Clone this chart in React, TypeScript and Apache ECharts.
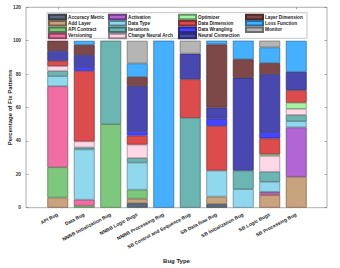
import React, { useEffect, useRef } from "react";
import * as echarts from "echarts";

const categories = [
  "API Bug",
  "Data Bug",
  "NNBB Initialization Bug",
  "NNBB Logic Bugs",
  "NNBB Processing Bug",
  "SB Control and Sequence Bug",
  "SB Data flow Bug",
  "SB Initialization Bug",
  "SB Logic Bugs",
  "SB Processing Bug",
];

const seriesNames = [
  "Accuracy Metric",
  "Add Layer",
  "API Contract",
  "Versioning",
  "Activation",
  "Data Type",
  "Iterations",
  "Change Neural Arch",
  "Optimizer",
  "Data Dimension",
  "Data Wrangling",
  "Neural Connection",
  "Layer Dimension",
  "Loss Function",
  "Monitor",
];

const N = null;
const accuracyMetric = [N, N, N, 2.7, N, N, 2.2, N, N, N];
const addLayer = [6.06, N, N, 2.7, N, N, 4.4, N, 7.5, 18.5];
const apiContract = [18.18, 1.2, 50, 5.4, N, N, N, N, N, N];
const versioning = [48.48, 3.6, N, N, N, N, N, N, 1, N];
const activation = [N, N, N, N, N, N, N, N, 1, 29.6];
const dataType = [6.06, 30.1, N, 16.2, N, N, 15.6, 11.1, 6, 3.7];
const iterations = [3.03, 1.2, 50, 2.7, N, 53.8, N, 11.1, 6, 3.7];
const changeNeuralArch = [3.03, 3.6, N, 8.1, N, N, N, N, 9.5, 3.7];
const optimizer = [N, N, N, N, N, N, N, N, 1, 3.7];
const dataDimension = [3.03, 42.2, N, 5.4, N, 23.1, 26.7, N, 9.5, 7.4];
const dataWrangling = [N, 2.4, N, 2.7, N, N, 4.4, N, 3.8, N];
const neuralConnection = [6.06, 7.2, N, 27.0, N, 15.4, 6.7, 55.6, 34.7, 11.1];
const layerDimension = [6.06, 6.0, N, 5.4, N, N, 37.8, 11.1, 6.6, N];
const lossFunction = [N, 2.4, N, 8.1, 100, N, 2.2, 11.1, 9.4, 18.5];
const monitor = [N, N, N, 13.5, N, 7.7, N, N, 4, N];

const seriesValues = [
  accuracyMetric,
  addLayer,
  apiContract,
  versioning,
  activation,
  dataType,
  iterations,
  changeNeuralArch,
  optimizer,
  dataDimension,
  dataWrangling,
  neuralConnection,
  layerDimension,
  lossFunction,
  monitor,
];

const colors = [
  "#5b6b7f",
  "#c9a27e",
  "#7ec87e",
  "#f06ea3",
  "#b266d6",
  "#8fd8ee",
  "#6bb5b2",
  "#ffd8e8",
  "#a3f5a3",
  "#dc4c4c",
  "#4545ff",
  "#4848b0",
  "#7f4848",
  "#45b0ff",
  "#b5b5b5",
];

function darken(hex: string, f: number) {
  const n = parseInt(hex.slice(1), 16);
  const r = Math.round(((n >> 16) & 255) * f);
  const g = Math.round(((n >> 8) & 255) * f);
  const b = Math.round((n & 255) * f);
  return "rgb(" + r + "," + g + "," + b + ")";
}

const FONT = "Liberation Sans, Arial, sans-serif";

export default function App() {
  const ref = useRef<HTMLDivElement>(null);
  useEffect(() => {
    if (!ref.current) return;
    const chart = echarts.init(ref.current, null, { renderer: "svg" });
    const frameTop = 7.3;
    const frameBottom = 60.3;
    const colLefts = [48, 108, 178, 245];
    const tickStyle = { color: "#777", width: 0.6 };
    const legends = seriesNames.map((name, i) => ({
      orient: "horizontal",
      left: colLefts[Math.floor(i / 4)],
      top: 13.8 + (i % 4) * 6.3,
      z: 10,
      itemWidth: 17,
      itemHeight: 4.5,
      itemGap: 0,
      padding: 0,
      icon: "rect",
      data: [name],
      selectedMode: false,
      textStyle: {
        fontSize: 4.7,
        fontWeight: "bold",
        color: "#222",
        fontFamily: FONT,
        padding: [0, 0, 0, -3],
      },
    }));
    const option: any = {
      animation: false,
      backgroundColor: "#ffffff",
      textStyle: { fontFamily: FONT },
      grid: [
        {
          left: 26,
          right: 13,
          top: frameTop,
          bottom: frameBottom,
          show: true,
          borderColor: "#9a9a9a",
          borderWidth: 0.8,
          backgroundColor: "transparent",
        },
        { left: 44.5, right: 30.5, top: frameTop, bottom: frameBottom },
      ],
      xAxis: [
        { gridIndex: 0, type: "value", min: 0, max: 1, show: false },
        {
          gridIndex: 1,
          type: "category",
          data: categories,
          axisLine: { show: false },
          axisTick: {
            show: true,
            inside: true,
            alignWithLabel: true,
            length: 2,
            lineStyle: tickStyle,
          },
          axisLabel: {
            rotate: 28,
            fontSize: 4.9,
            fontWeight: "bold",
            color: "#222",
            margin: 6.5,
            interval: 0,
            fontFamily: FONT,
          },
        },
        {
          gridIndex: 1,
          type: "category",
          data: categories,
          position: "top",
          axisLine: { show: false },
          axisTick: {
            show: true,
            inside: true,
            alignWithLabel: true,
            length: 2,
            lineStyle: tickStyle,
          },
          axisLabel: { show: false },
        },
      ],
      yAxis: [
        {
          gridIndex: 0,
          type: "value",
          min: 0,
          max: 120,
          interval: 20,
          axisLine: { show: false },
          splitLine: { show: false },
          axisTick: { show: true, inside: true, length: 2.5, lineStyle: tickStyle },
          axisLabel: {
            fontSize: 4.8,
            color: "#333",
            margin: 5,
            fontWeight: "bold",
            fontFamily: FONT,
          },
        },
        {
          gridIndex: 0,
          type: "value",
          position: "right",
          min: 0,
          max: 120,
          interval: 20,
          axisLine: { show: false },
          splitLine: { show: false },
          axisTick: { show: true, inside: true, length: 2.5, lineStyle: tickStyle },
          axisLabel: { show: false },
        },
        { gridIndex: 1, type: "value", min: 0, max: 120, show: false },
      ],
      legend: legends,
      graphic: [
        {
          type: "rect",
          z: 3,
          shape: { x: 47, y: 12.7, width: 260, height: 25.6 },
          style: { fill: "#ffffff", stroke: "#a0a0a0", lineWidth: 0.6 },
        },
        {
          type: "text",
          x: 10,
          y: 107.5,
          rotation: Math.PI / 2,
          style: {
            text: "Percentage of Fix Patterns",
            fontSize: 6,
            fontWeight: "bold",
            fill: "#222",
            align: "center",
            verticalAlign: "middle",
            fontFamily: FONT,
          },
        },
        {
          type: "text",
          x: 176.5,
          y: 261,
          style: {
            text: "Bug Type",
            fontSize: 6,
            fontWeight: "bold",
            fill: "#222",
            align: "center",
            verticalAlign: "middle",
            fontFamily: FONT,
          },
        },
      ],
      series: seriesNames.map((name, i) => ({
        name,
        type: "bar",
        stack: "total",
        xAxisIndex: 1,
        yAxisIndex: 2,
        barWidth: 20.8,
        data: seriesValues[i],
        itemStyle: {
          color: colors[i],
          borderColor: darken(colors[i], 0.6),
          borderWidth: 0.7,
        },
      })),
    };
    chart.setOption(option);
    return () => chart.dispose();
  }, []);
  return (
    <div
      ref={ref}
      style={{ position: "fixed", left: 0, top: 0, width: 340, height: 268 }}
    />
  );
}
